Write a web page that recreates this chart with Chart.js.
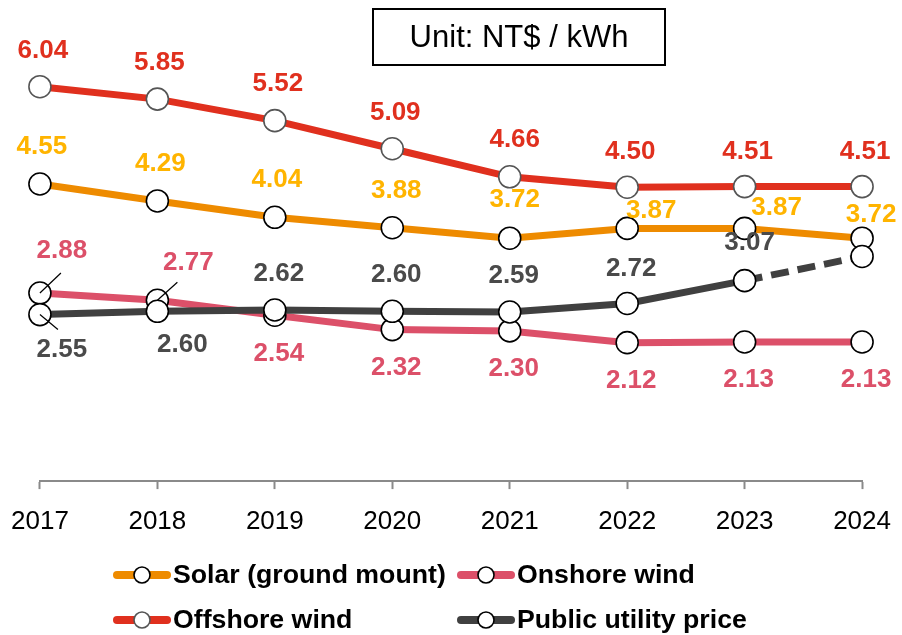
<!DOCTYPE html>
<html>
<head>
<meta charset="utf-8">
<script src="https://cdn.jsdelivr.net/npm/chart.js@4.4.0/dist/chart.umd.min.js"></script>
<style>
  html, body { margin: 0; padding: 0; background: #fff; }
</style>
</head>
<body>
<canvas id="price_chart" width="902" height="635"></canvas>
<script>
const years = ["2017", "2018", "2019", "2020", "2021", "2022", "2023", "2024"];

const solar = [4.55, 4.29, 4.04, 3.88, 3.72, 3.87, 3.87, 3.72];
const onshore = [2.88, 2.77, 2.54, 2.32, 2.30, 2.12, 2.13, 2.13];
const offshore = [6.04, 5.85, 5.52, 5.09, 4.66, 4.50, 4.51, 4.51];
const utility = [2.55, 2.60, 2.62, 2.60, 2.59, 2.72, 3.07, 3.44];

// which values get a printed label (utility 2024 is an estimate, unlabelled)
const utilityShown = [true, true, true, true, true, true, true, false];

// -----------------------------------------------------------------------------

const FONT = "'Liberation Sans', Arial, sans-serif";

// label offsets from the point, [dx, dy], plus optional leader line end
const solarPos = [[2, -37], [3, -37], [2, -37], [4, -37], [5, -38], [24, -18], [32, -21], [9, -23]];
const onshorePos = [[22, -42], [31, -37], [4, 39], [4, 38], [4, 38], [4, 38], [4, 38], [4, 38]];
const offshorePos = [[3, -36], [2, -36], [3, -37], [3, -36], [5, -37], [3, -35], [3, -35], [3, -35]];
const utilityPos = [[22, 35], [25, 34], [4, -36], [4, -36], [4, -36], [4, -35], [5, -38], [0, 0]];
const onshoreLeader = [[21, -20], [20, -18], null, null, null, null, null, null];
const utilityLeader = [[18, 15], null, null, null, null, null, null, null];

function isLastSegment(ctx) {
  const dataSize = ctx.chart.data.datasets[ctx.datasetIndex].data.length;
  return ctx.p1DataIndex === dataSize - 1;
}

function series(label, values, line, text, pointBorder, pos, leader, shown, order) {
  return {
    label,
    data: values,
    borderColor: line,
    backgroundColor: line,
    borderWidth: 7,
    tension: 0,
    pointRadius: 11,
    pointBackgroundColor: "#fff",
    pointBorderColor: pointBorder,
    pointBorderWidth: 1.6,
    order,
    labelColor: text,
    labelPos: pos,
    labelLeader: leader,
    labelShown: shown,
  };
}

const datasets = [
  series("Solar (ground mount)", solar, "#ee8b00", "#ffb400", "#000", solarPos, null, null, 3),
  series("Onshore wind", onshore, "#dc5069", "#dc5069", "#000", onshorePos, onshoreLeader, null, 2),
  series("Offshore wind", offshore, "#e0301e", "#e0301e", "#555", offshorePos, null, null, 1),
  series("Public utility price", utility, "#404040", "#4a4a4a", "#000", utilityPos, utilityLeader, utilityShown, 0),
];
datasets[3].segment = {
  borderDash: (ctx) => (isLastSegment(ctx) ? [18, 9] : undefined),
};

const legendSlots = [[0, 0], [1, 0], [0, 1], [1, 1]];

const valueLabels = {
  id: "valueLabels",
  afterDatasetsDraw(chart) {
    const ctx = chart.ctx;
    ctx.save();
    ctx.font = "bold 26px " + FONT;
    ctx.textAlign = "center";
    ctx.textBaseline = "middle";
    chart.data.datasets.forEach((ds, i) => {
      const meta = chart.getDatasetMeta(i);
      meta.data.forEach((pt, j) => {
        if (ds.labelShown && !ds.labelShown[j]) return;
        const [dx, dy] = ds.labelPos[j];
        if (ds.labelLeader && ds.labelLeader[j]) {
          const [lx, ly] = ds.labelLeader[j];
          ctx.strokeStyle = "#000";
          ctx.lineWidth = 1.2;
          ctx.beginPath();
          ctx.moveTo(pt.x, pt.y);
          ctx.lineTo(pt.x + lx, pt.y + ly);
          ctx.stroke();
        }
        ctx.fillStyle = ds.labelColor;
        ctx.fillText(ds.data[j].toFixed(2), pt.x + dx, pt.y + dy);
      });
    });
    ctx.restore();
  },
};

const extras = {
  id: "extras",
  afterDraw(chart) {
    const ctx = chart.ctx;
    ctx.save();

    // unit box
    ctx.strokeStyle = "#000";
    ctx.lineWidth = 2;
    ctx.strokeRect(373, 9, 292, 56);
    ctx.fillStyle = "#000";
    ctx.font = "31px " + FONT;
    ctx.textAlign = "center";
    ctx.textBaseline = "middle";
    ctx.fillText("Unit: NT$ / kWh", 519, 38);

    // legend, two aligned columns
    const colX = [113, 457];
    const rowY = [575, 620];
    chart.data.datasets.forEach((ds, i) => {
      const [c, r] = legendSlots[i];
      const x = colX[c];
      const y = rowY[r];
      ctx.strokeStyle = ds.borderColor;
      ctx.lineWidth = 8;
      ctx.lineCap = "round";
      ctx.beginPath();
      ctx.moveTo(x + 4, y);
      ctx.lineTo(x + 54, y);
      ctx.stroke();
      ctx.beginPath();
      ctx.arc(x + 29, y, 8, 0, Math.PI * 2);
      ctx.fillStyle = "#fff";
      ctx.fill();
      ctx.lineWidth = 1.6;
      ctx.strokeStyle = ds.pointBorderColor;
      ctx.stroke();
      ctx.fillStyle = "#000";
      ctx.font = "bold 26.7px " + FONT;
      ctx.textAlign = "left";
      ctx.fillText(ds.label, x + 60, y + 1);
    });
    ctx.restore();
  },
};

new Chart(document.getElementById("price_chart"), {
  type: "line",
  data: { labels: years, datasets },
  options: {
    responsive: false,
    animation: false,
    events: [],
    layout: { autoPadding: false, padding: { left: 34, right: 30, top: 24, bottom: 81 } },
    plugins: {
      legend: { display: false },
      tooltip: { enabled: false },
    },
    scales: {
      y: { display: false, min: 0, max: 7 },
      x: {
        offset: false,
        border: { display: true, color: "#8a8a8a", width: 2 },
        grid: { drawOnChartArea: false, drawTicks: true, tickLength: 8, tickWidth: 2, color: "#8a8a8a", offset: false },
        ticks: { color: "#000", font: { family: FONT, size: 26, lineHeight: 1.65 }, padding: 11, maxRotation: 0 },
      },
    },
  },
  plugins: [valueLabels, extras],
});
</script>
</body>
</html>
